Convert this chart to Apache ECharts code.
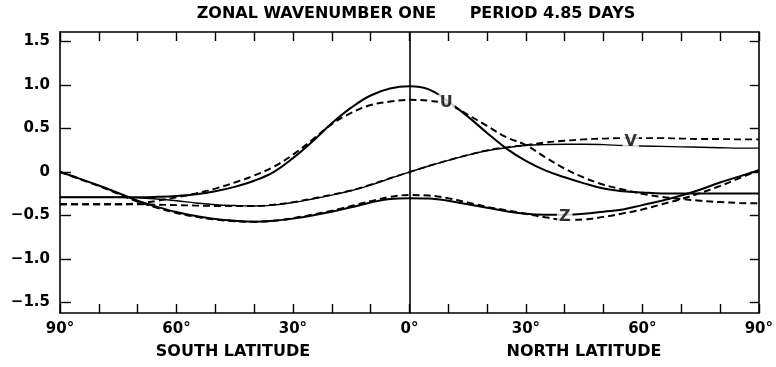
<!DOCTYPE html>
<html>
<head>
<meta charset="utf-8">
<script src="https://cdn.jsdelivr.net/npm/echarts@6/dist/echarts.min.js"></script>
<style>
  html, body { margin: 0; padding: 0; background: #fff; }
  #main { width: 776px; height: 367px; }
</style>
</head>
<body>
<div id="main"></div>
<script>
// latitude, south negative, every 5 degrees
const lat = [-90, -85, -80, -75, -70, -65, -60, -55, -50, -45, -40, -35, -30, -25, -20, -15, -10, -5,
  0, 5, 10, 15, 20, 25, 30, 35, 40, 45, 50, 55, 60, 65, 70, 75, 80, 85, 90];

const uSolid = [-0.29, -0.29, -0.29, -0.29, -0.29, -0.285, -0.275, -0.255, -0.22, -0.17, -0.10, 0.0, 0.16, 0.35, 0.56, 0.74, 0.88, 0.96,
  0.985, 0.95, 0.81, 0.64, 0.45, 0.27, 0.13, 0.02, -0.06, -0.13, -0.19, -0.22, -0.235, -0.245, -0.245, -0.245, -0.245, -0.245, -0.245];
const uDashed = [-0.37, -0.37, -0.37, -0.37, -0.36, -0.33, -0.29, -0.245, -0.19, -0.12, -0.04, 0.06, 0.20, 0.37, 0.55, 0.68, 0.77, 0.81,
  0.83, 0.82, 0.78, 0.66, 0.53, 0.40, 0.31, 0.17, 0.04, -0.065, -0.145, -0.20, -0.25, -0.285, -0.31, -0.33, -0.345, -0.355, -0.36];

const vSolid = [-0.29, -0.29, -0.29, -0.29, -0.295, -0.31, -0.33, -0.355, -0.375, -0.385, -0.39, -0.38, -0.35, -0.31, -0.265, -0.215, -0.15, -0.075,
  0.0, 0.07, 0.135, 0.195, 0.245, 0.28, 0.305, 0.315, 0.32, 0.32, 0.315, 0.305, 0.30, 0.295, 0.29, 0.285, 0.28, 0.275, 0.275];
const vDashed = [-0.37, -0.37, -0.37, -0.37, -0.37, -0.375, -0.38, -0.385, -0.39, -0.39, -0.39, -0.375, -0.345, -0.305, -0.26, -0.21, -0.145, -0.07,
  0.0, 0.07, 0.135, 0.195, 0.25, 0.285, 0.31, 0.34, 0.36, 0.375, 0.385, 0.39, 0.39, 0.39, 0.385, 0.38, 0.38, 0.375, 0.375];

const zSolid = [0.0, -0.075, -0.155, -0.24, -0.33, -0.40, -0.46, -0.505, -0.54, -0.56, -0.57, -0.56, -0.535, -0.50, -0.455, -0.405, -0.35, -0.31,
  -0.30, -0.305, -0.33, -0.37, -0.41, -0.45, -0.48, -0.49, -0.49, -0.48, -0.455, -0.43, -0.38, -0.33, -0.27, -0.20, -0.12, -0.05, 0.02];
const zDashed = [0.0, -0.08, -0.16, -0.25, -0.34, -0.41, -0.47, -0.515, -0.545, -0.565, -0.57, -0.56, -0.53, -0.49, -0.445, -0.39, -0.335, -0.285,
  -0.265, -0.27, -0.30, -0.35, -0.40, -0.44, -0.48, -0.52, -0.55, -0.545, -0.515, -0.475, -0.43, -0.37, -0.31, -0.24, -0.16, -0.07, 0.02];

// curve labels
const curveNames = ['U', 'V', 'Z'];
const curveLat = [9.5, 57, 40];
const curveVal = [0.80, 0.35, -0.51];

const yTicks = [-1.5, -1.0, -0.5, 0, 0.5, 1.0, 1.5];

const font = 'DejaVu Sans';

const chart = echarts.init(document.getElementById('main'));

function pts(vals) {
  return lat.map((x, i) => [x, vals[i]]);
}

function curve(vals, dashed, width) {
  return {
    type: 'line',
    data: pts(vals),
    showSymbol: false,
    smooth: 0.4,
    lineStyle: { color: '#000', width: width, type: dashed ? [7, 4] : 'solid' },
    silent: true,
    z: 3
  };
}

const axisX = (pos) => ({
  type: 'value',
  position: pos,
  min: -90,
  max: 90,
  interval: 10,
  axisLine: { show: true, onZero: false, lineStyle: { color: '#000', width: 1.6 } },
  axisTick: { show: true, inside: true, length: 9, lineStyle: { color: '#000', width: 1.4 } },
  axisLabel: {
    show: pos === 'bottom',
    margin: 9,
    color: '#000',
    fontFamily: font,
    fontSize: 15,
    fontWeight: 'bold',
    formatter: (v) => (v % 30 === 0 ? Math.abs(v) + '°' : '')
  },
  splitLine: { show: false }
});

const axisY = (pos) => ({
  type: 'value',
  position: pos,
  min: -1.62,
  max: 1.61,
  axisLine: { show: true, onZero: false, lineStyle: { color: '#000', width: 1.6 } },
  axisTick: { show: true, inside: true, length: pos === 'left' ? 11 : 9, customValues: yTicks, lineStyle: { color: '#000', width: 1.4 } },
  axisLabel: {
    show: pos === 'left',
    customValues: yTicks,
    margin: 10,
    color: '#000',
    fontFamily: font,
    fontSize: 15,
    fontWeight: 'bold',
    formatter: (v) => (v === 0 ? '0' : (v < 0 ? '−' : '') + Math.abs(v).toFixed(1))
  },
  splitLine: { show: false }
});

const textFont = 'bold 16px "DejaVu Sans"';

const option = {
  animation: false,
  backgroundColor: '#fff',
  grid: { left: 60, right: 13, top: 32, bottom: 54 },
  xAxis: [axisX('bottom'), axisX('top')],
  yAxis: [axisY('left'), axisY('right')],
  graphic: [
    {
      type: 'text', x: 416, y: 14,
      style: { text: 'ZONAL WAVENUMBER ONE      PERIOD 4.85 DAYS', font: textFont, fill: '#000', align: 'center', verticalAlign: 'middle' }
    },
    {
      type: 'text', x: 233, y: 352,
      style: { text: 'SOUTH LATITUDE', font: textFont, fill: '#000', align: 'center', verticalAlign: 'middle' }
    },
    {
      type: 'text', x: 584, y: 352,
      style: { text: 'NORTH LATITUDE', font: textFont, fill: '#000', align: 'center', verticalAlign: 'middle' }
    }
  ],
  series: [
    Object.assign(curve(uSolid, false, 2), {
      markLine: {
        silent: true,
        symbol: 'none',
        label: { show: false },
        lineStyle: { color: '#000', width: 1.6, type: 'solid' },
        data: [{ xAxis: 0 }]
      }
    }),
    curve(uDashed, true, 2),
    curve(vSolid, false, 1.4),
    curve(vDashed, true, 1.8),
    curve(zSolid, false, 2),
    curve(zDashed, true, 2),
    {
      type: 'scatter',
      data: curveNames.map((n, i) => [curveLat[i], curveVal[i], n]),
      symbolSize: 1,
      itemStyle: { color: 'rgba(0,0,0,0)' },
      z: 5,
      label: {
        show: true,
        position: 'inside',
        formatter: (p) => p.data[2],
        color: '#000',
        fontFamily: font,
        fontSize: 16,
        fontWeight: 'bold',
        backgroundColor: '#fff',
        padding: [0, 2]
      }
    }
  ]
};

chart.setOption(option);
</script>
</body>
</html>
